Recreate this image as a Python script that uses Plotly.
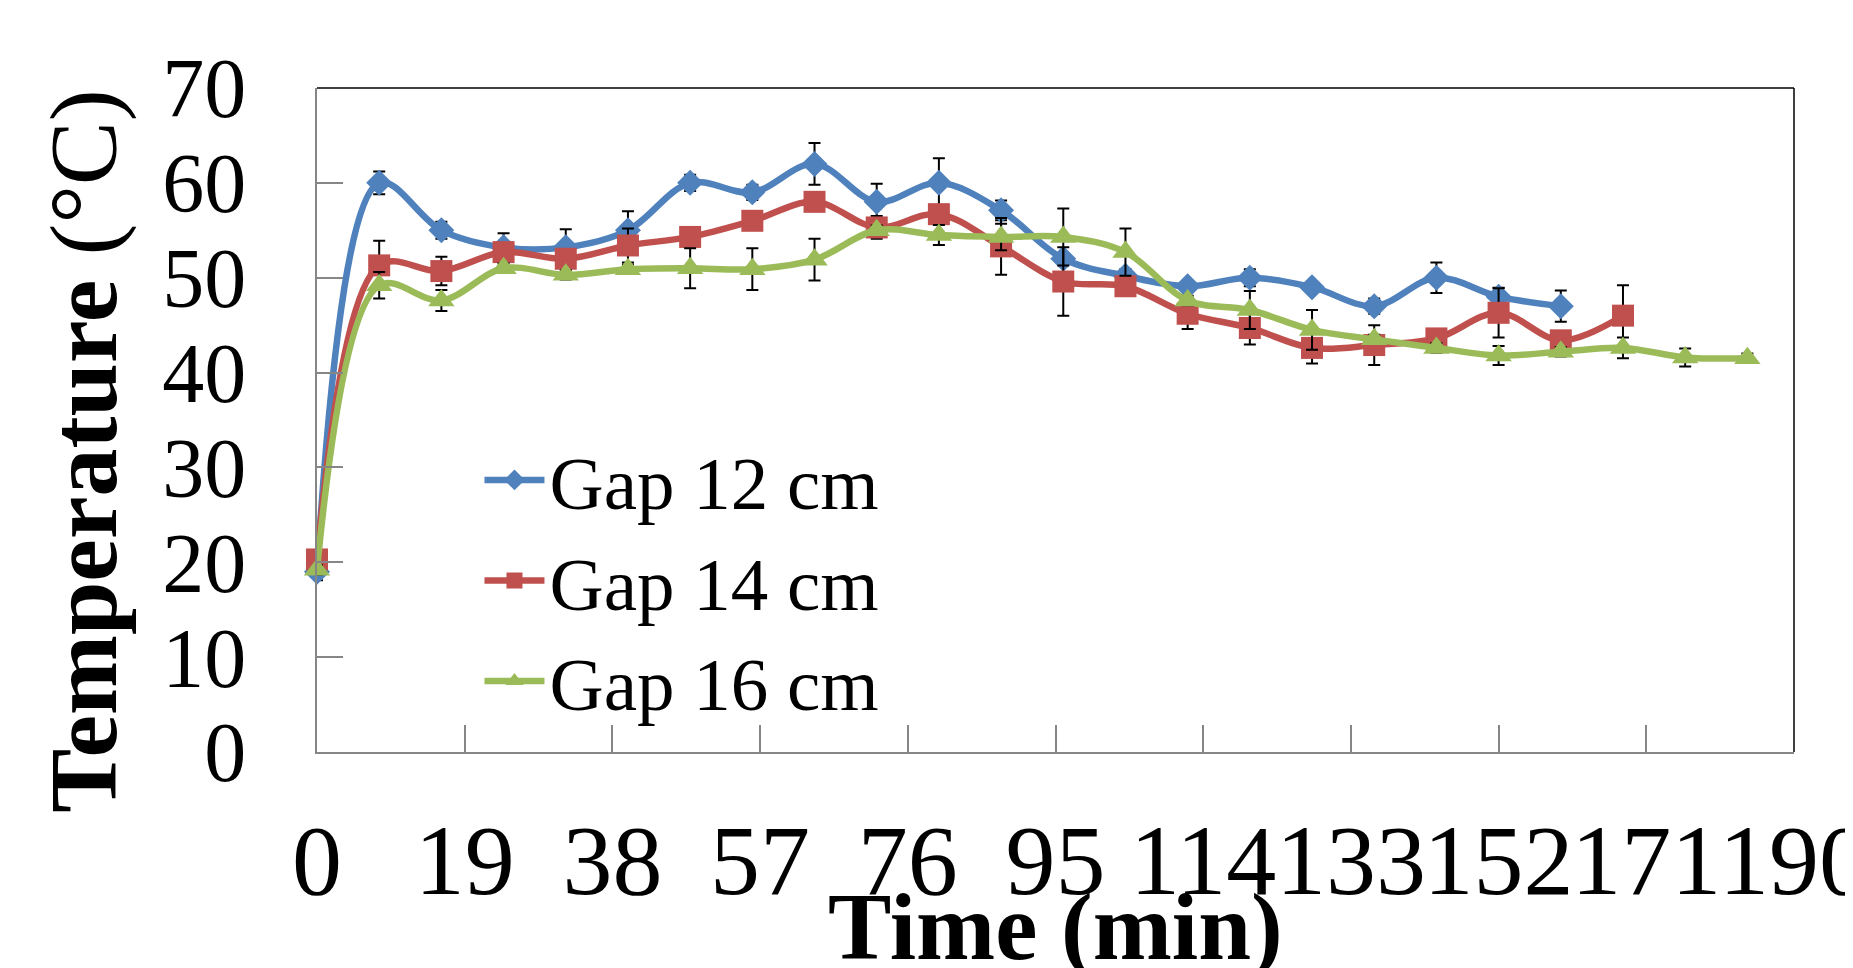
import plotly.graph_objects as go

# ---- data ----
time_12 = [0, 8, 16, 24, 32, 40, 48, 56, 64, 72, 80, 88, 96, 104, 112, 120, 128, 136, 144, 152, 160]
temp_12 = [19.0, 60.0, 55.0, 53.2, 53.2, 55.0, 60.0, 59.0, 62.0, 58.0, 60.0, 57.1, 52.0, 50.2, 49.1, 50.0, 49.0, 47.0, 50.0, 48.0, 47.0]
err_12 = [0.9, 1.2, 0.9, 1.5, 1.9, 2.0, 0.85, 0.8, 2.2, 1.9, 2.6, 1.05, 0.5, 0.7, 0.5, 0.9, 0.5, 0.8, 1.6, 0.95, 1.65]

time_14 = [0, 8, 16, 24, 32, 40, 48, 56, 64, 72, 80, 88, 96, 104, 112, 120, 128, 136, 144, 152, 160, 168]
temp_14 = [20.3, 51.3, 50.7, 52.7, 52.0, 53.4, 54.3, 56.0, 58.0, 55.3, 56.7, 53.3, 49.6, 49.1, 46.2, 44.7, 42.6, 42.9, 43.6, 46.3, 43.4, 46.0]
err_14 = [0.5, 2.6, 1.5, 0.8, 0.8, 1.8, 0.8, 0.8, 0.8, 1.2, 0.8, 3.0, 3.6, 0.8, 1.6, 1.75, 1.65, 2.1, 0.8, 2.6, 0.8, 3.2]

time_16 = [0, 8, 16, 24, 32, 40, 48, 56, 64, 72, 80, 88, 96, 104, 112, 120, 128, 136, 144, 152, 160, 168, 176, 184]
temp_16 = [19.2, 49.2, 47.6, 51.0, 50.3, 50.9, 51.0, 50.9, 51.9, 55.0, 54.5, 54.3, 54.3, 52.7, 47.6, 46.6, 44.5, 43.5, 42.6, 41.8, 42.2, 42.6, 41.6, 41.5]
err_16 = [0.5, 1.4, 1.1, 0.5, 0.5, 0.5, 2.1, 2.2, 2.2, 0.5, 1.05, 1.4, 3.0, 2.5, 0.5, 2.0, 2.1, 0.5, 0.5, 1.0, 0.5, 1.1, 0.95, 0.5]

series_names = ["Gap 12 cm", "Gap 14 cm", "Gap 16 cm"]
x_ticks = [0, 19, 38, 57, 76, 95, 114, 133, 152, 171, 190]
y_ticks = [0, 10, 20, 30, 40, 50, 60, 70]

FONT = "Times New Roman, Liberation Serif, serif"
GRAY = "#868686"

styles = [
    dict(color="#4F81BD", symbol="diamond", size=20),
    dict(color="#C0504D", symbol="square", size=22),
    dict(color="#9BBB59", symbol="triangle-up", size=23),
]

fig = go.Figure()
for name, xs, ys, es, st in zip(series_names,
                                [time_12, time_14, time_16],
                                [temp_12, temp_14, temp_16],
                                [err_12, err_14, err_16],
                                styles):
    fig.add_trace(go.Scatter(
        x=xs, y=ys, name=name, mode="lines+markers",
        line=dict(color=st["color"], width=6.5, shape="spline", smoothing=1),
        marker=dict(color=st["color"], symbol=st["symbol"], size=st["size"]),
        error_y=dict(type="data", array=es, visible=True, color="black", thickness=2, width=6),
        cliponaxis=False,
    ))

fig.update_layout(
    width=1853, height=968,
    margin=dict(l=309, r=67, t=80, b=224, pad=0, autoexpand=False),
    paper_bgcolor="white", plot_bgcolor="white",
    font=dict(family=FONT, color="black"),
    showlegend=True,
    legend=dict(x=0.11, y=0.493, xanchor="left", yanchor="top",
                font=dict(family=FONT, size=75, color="black"),
                bgcolor="rgba(0,0,0,0)", tracegroupgap=0, itemwidth=60),
    xaxis=dict(range=[0, 190], tickvals=x_ticks, ticktext=[str(v) for v in x_ticks],
               tickangle=0, showgrid=False, zeroline=False, automargin=False,
               showline=True, linecolor=GRAY, linewidth=2,
               ticks="inside", ticklen=27, tickwidth=2, tickcolor=GRAY,
               tickfont=dict(family=FONT, size=100, color="black"),
               ticklabelstandoff=20, ticklabeloverflow="allow"),
    yaxis=dict(range=[0, 70], tickvals=y_ticks, showgrid=False, zeroline=False, automargin=False,
               showline=True, linecolor=GRAY, linewidth=2,
               ticks="inside", ticklen=26, tickwidth=2, tickcolor=GRAY,
               tickfont=dict(family=FONT, size=84, color="black"),
               ticklabelstandoff=52),
    shapes=[
        dict(type="line", xref="paper", yref="paper", x0=0, y0=1, x1=1, y1=1,
             line=dict(color="black", width=1.5), layer="below"),
        dict(type="line", xref="paper", yref="paper", x0=1, y0=1, x1=1, y1=0,
             line=dict(color="black", width=1.5), layer="below"),
    ],
    annotations=[
        dict(text="<b>Time (min)</b>", xref="paper", yref="paper", x=0.5, y=-0.263,
             xanchor="center", yanchor="middle", showarrow=False,
             font=dict(family=FONT, size=95, color="black")),
        dict(text="<b>Temperature</b> (°C)", xref="paper", yref="paper", x=-0.158, y=0.453,
             xanchor="center", yanchor="middle", showarrow=False, textangle=-90,
             font=dict(family=FONT, size=96, color="black")),
    ],
)

fig.write_html("out.html")
